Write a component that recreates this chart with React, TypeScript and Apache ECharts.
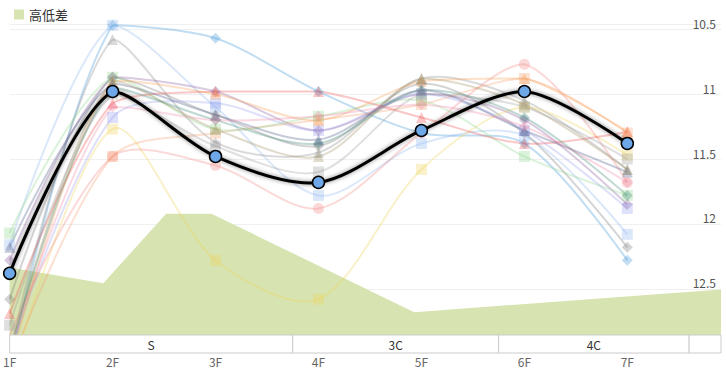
import React, { useEffect, useRef } from "react";
import * as echarts from "echarts";

const floorLabels = ["1F", "2F", "3F", "4F", "5F", "6F", "7F"];

// main (bold) line
const mainLine = [12.38, 10.98, 11.48, 11.68, 11.28, 10.98, 11.38];

// faint comparison lines
const lineNames = [
  "A", "B", "C", "D", "E", "F", "G", "H", "I", "J", "K", "L", "M", "N", "O", "P", "Q",
];
const lineSymbols = [
  "diamond", "rect", "triangle", "diamond", "diamond", "rect", "rect", "circle", "rect",
  "rect", "triangle", "triangle", "diamond", "triangle", "triangle", "rect", "diamond",
];
const lineColors = [
  "#3d96d6", "#8fb8f0", "#8c8c8c", "#7a7a7a", "#8a5a9a", "#9aa0f0", "#efd25a", "#f28a8a",
  "#f5a070", "#8fd88f", "#ee4f4f", "#f8a050", "#3f8a78", "#4a5a88", "#a09060", "#9a9a9a", "#ee88a8",
];
const lineValues = [
  [13.1, 10.47, 10.57, 10.98, 11.3, 11.38, 12.28],
  [12.16, 10.47, 11.1, 11.78, 11.38, 11.32, 12.08],
  [13.0, 10.58, 11.37, 11.45, 10.88, 11.05, 11.58],
  [12.58, 10.87, 11.16, 11.4, 10.92, 11.3, 12.18],
  [12.28, 10.87, 10.98, 11.28, 11.0, 11.2, 11.85],
  [13.0, 11.18, 11.07, 11.28, 11.0, 11.28, 11.88],
  [13.2, 11.27, 12.28, 12.58, 11.58, 11.1, 11.47],
  [12.86, 11.48, 11.55, 11.88, 11.3, 10.77, 11.68],
  [13.1, 11.48, 11.3, 11.2, 11.08, 10.88, 11.3],
  [12.07, 10.87, 11.27, 11.17, 11.05, 11.48, 11.78],
  [12.69, 11.07, 10.98, 10.98, 11.18, 11.38, 11.29],
  [13.1, 10.9, 11.0, 11.2, 10.9, 10.88, 11.29],
  [13.0, 10.95, 11.2, 11.38, 10.97, 11.18, 11.78],
  [12.18, 10.92, 11.16, 11.35, 10.97, 11.28, 11.6],
  [13.0, 10.9, 11.27, 11.48, 10.88, 11.08, 11.58],
  [12.78, 11.0, 11.4, 11.6, 11.0, 11.1, 11.5],
  [13.0, 11.1, 11.2, 11.17, 11.08, 11.25, 11.68],
];

// height-difference profile (position in furlong units, height)
const profileX = [0, 0.91, 1.52, 1.96, 3.93, 6.91];
const profileY = [0.65, 0.5, 1.17, 1.17, 0.22, 0.44];

// course sections
const sectionStart = [0, 2.75, 4.75, 6.6];
const sectionEnd = [2.75, 4.75, 6.6, 6.91];
const sectionLabels = ["S", "3C", "4C", ""];

const SMOOTH = 0.3;

// Smoothed segment (bounding-box constrained bezier) from point j-1 to j
function segment(pts: number[][], j: number) {
  const n = pts.length;
  let minX = Infinity, minY = Infinity, maxX = -Infinity, maxY = -Infinity;
  pts.forEach((p) => {
    minX = Math.min(minX, p[0]); maxX = Math.max(maxX, p[0]);
    minY = Math.min(minY, p[1]); maxY = Math.max(maxY, p[1]);
  });
  const clamp = (p: number[]) => [
    Math.min(Math.max(p[0], minX), maxX),
    Math.min(Math.max(p[1], minY), maxY),
  ];
  const cps = (i: number) => {
    const p = pts[i];
    if (i === 0 || i === n - 1) return [p, p];
    const prev = pts[i - 1];
    const next = pts[i + 1];
    const vx = next[0] - prev[0];
    const vy = next[1] - prev[1];
    const d0 = Math.hypot(p[0] - prev[0], p[1] - prev[1]);
    const d1 = Math.hypot(p[0] - next[0], p[1] - next[1]);
    const sum = d0 + d1 || 1;
    const r0 = d0 / sum;
    const r1 = d1 / sum;
    const cin = clamp([p[0] - vx * SMOOTH * r0, p[1] - vy * SMOOTH * r0]);
    const cout = clamp([p[0] + vx * SMOOTH * r1, p[1] + vy * SMOOTH * r1]);
    return [cin, cout];
  };
  const a = pts[j - 1];
  const b = pts[j];
  const c1 = cps(j - 1)[1];
  const c2 = cps(j)[0];
  return { x1: a[0], y1: a[1], cpx1: c1[0], cpy1: c1[1], cpx2: c2[0], cpy2: c2[1], x2: b[0], y2: b[1] };
}

function curveSeries(vals: number[], style: any, z: number) {
  return {
    type: "custom",
    xAxisIndex: 0,
    yAxisIndex: 0,
    clip: true,
    silent: true,
    z,
    encode: { x: 0, y: 1 },
    data: vals.map((v, j) => [j, v]),
    renderItem: (params: any, api: any) => {
      const j = params.dataIndex;
      if (j === 0) return null;
      const pts = vals.map((v, i) => api.coord([i, v]));
      return { type: "bezierCurve", shape: segment(pts, j), style: { fill: null, ...style } };
    },
  };
}

export default function App() {
  const ref = useRef<HTMLDivElement>(null);
  useEffect(() => {
    document.body.style.margin = "0";
    const chart = echarts.init(ref.current!, null, { renderer: "svg" });
    const font = "'Microsoft YaHei', 'Noto Sans CJK SC', sans-serif";
    const faintCurves = lineValues.map((vals, i) =>
      curveSeries(vals, { stroke: lineColors[i], lineWidth: 2, opacity: 0.32 }, 2)
    );
    const faintMarks = lineValues.map((vals, i) => ({
      name: lineNames[i],
      type: "line",
      xAxisIndex: 0,
      yAxisIndex: 0,
      symbol: lineSymbols[i],
      symbolSize: 11,
      data: vals.map((v, j) => [j, v]),
      lineStyle: { width: 0, opacity: 0 },
      itemStyle: { color: lineColors[i], opacity: 0.32 },
      z: 3,
    }));
    chart.setOption({
      animation: false,
      textStyle: { fontFamily: font },
      legend: {
        data: ["高低差"],
        left: 9,
        top: 3,
        itemWidth: 10,
        itemHeight: 10,
        itemGap: 6,
        icon: "rect",
        textStyle: { color: "#333", fontSize: 13, fontFamily: font },
      },
      grid: { left: 6, right: 5, top: 24, bottom: 35 },
      xAxis: [
        {
          type: "value",
          min: 0,
          max: 6.91,
          interval: 1,
          axisLine: { show: false },
          axisTick: { show: false },
          splitLine: { show: false },
          axisLabel: {
            margin: 20,
            color: "#666",
            fontSize: 12,
            showMaxLabel: false,
            formatter: (v: number) => (Number.isInteger(v) && floorLabels[v]) || "",
          },
        },
      ],
      yAxis: [
        {
          type: "value",
          inverse: true,
          position: "right",
          min: 10.46,
          max: 12.855,
          splitNumber: 5,
          axisLine: { show: false },
          axisTick: { show: false },
          splitLine: { lineStyle: { color: "#f0f0f0" } },
          axisLabel: {
            inside: true,
            verticalAlign: "bottom",
            margin: 5,
            color: "#555",
            fontSize: 12,
            showMinLabel: false,
            showMaxLabel: false,
            formatter: (v: number) =>
              Math.abs(v * 2 - Math.round(v * 2)) < 1e-6 ? String(v) : "",
          },
        },
        { type: "value", min: 0, max: 3, show: false },
      ],
      series: [
        {
          name: "高低差",
          type: "line",
          xAxisIndex: 0,
          yAxisIndex: 1,
          symbol: "none",
          data: profileX.map((x, i) => [x, profileY[i]]),
          lineStyle: { width: 0 },
          itemStyle: { color: "#d7e4b1" },
          areaStyle: { color: "#d7e4b1", opacity: 1 },
          z: 1,
        },
        ...faintCurves,
        ...faintMarks,
        curveSeries(
          mainLine,
          { stroke: "#000", lineWidth: 3, shadowColor: "rgba(0,0,0,0.5)", shadowBlur: 4 },
          9
        ),
        {
          name: "main",
          type: "line",
          xAxisIndex: 0,
          yAxisIndex: 0,
          symbol: "circle",
          symbolSize: 12,
          data: mainLine.map((v, j) => [j, v]),
          lineStyle: { width: 0, opacity: 0 },
          itemStyle: { color: "#6ea8e8", borderColor: "#000", borderWidth: 1.5, opacity: 1 },
          z: 10,
        },
        {
          name: "sections",
          type: "custom",
          xAxisIndex: 0,
          yAxisIndex: 1,
          clip: false,
          silent: true,
          data: sectionStart.map((s, i) => [s, sectionEnd[i]]),
          encode: { x: [0, 1] },
          renderItem: (params: any, api: any) => {
            const p0 = api.coord([api.value(0), 0]);
            const p1 = api.coord([api.value(1), 0]);
            return {
              type: "group",
              children: [
                {
                  type: "rect",
                  shape: { x: p0[0], y: p0[1], width: p1[0] - p0[0], height: 18 },
                  style: { fill: "#fff", stroke: "#cccccc", lineWidth: 1 },
                },
                {
                  type: "text",
                  style: {
                    text: sectionLabels[params.dataIndex],
                    x: (p0[0] + p1[0]) / 2,
                    y: p0[1] + 9,
                    align: "center",
                    verticalAlign: "middle",
                    fill: "#333",
                    fontSize: 12,
                    fontFamily: font,
                  },
                },
              ],
            };
          },
          z: 5,
        },
      ],
    });
    return () => chart.dispose();
  }, []);
  return <div ref={ref} style={{ width: 726, height: 370 }} />;
}
